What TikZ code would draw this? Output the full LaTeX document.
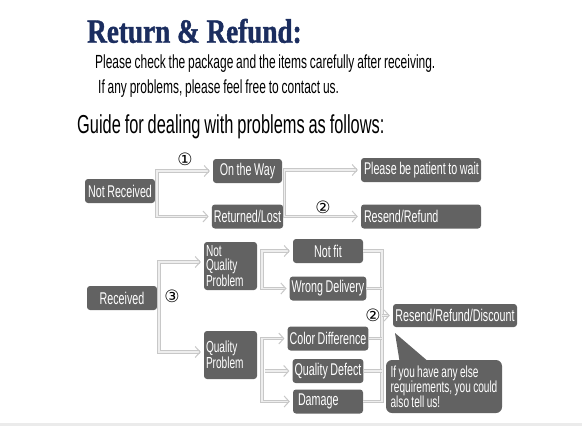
\documentclass[tikz,border=0pt]{standalone}
\usepackage{fontspec}
\usepackage{xcolor}
\usepackage{tikz}
\usetikzlibrary{arrows.meta}

\newfontfamily\narrowfont[FakeStretch=0.63, WordSpace=0.85]{Liberation Sans}
\newfontfamily\headfont[FakeStretch=0.8, FakeBold=1.2]{Liberation Serif}
\newfontfamily\circfont{DejaVu Sans}

\definecolor{titleblue}{RGB}{27,45,95}
\definecolor{boxgray}{RGB}{98,98,98}
\definecolor{linegray}{RGB}{200,200,200}
\definecolor{lineinner}{RGB}{238,238,238}

\tikzset{
  box/.style={fill=boxgray, rounded corners=3pt, text=white, inner sep=2pt,
    minimum height=24pt, font=\narrowfont\fontsize{17}{17}\selectfont},
  plain/.style={inner sep=0pt, anchor=west},
  num/.style={inner sep=0pt, font=\circfont\fontsize{17}{17}\selectfont},
  link/.style={draw=linegray, line width=1pt, double=lineinner,
    double distance=1.6pt, line join=miter, shorten >=3pt, shorten <=3pt,
    >={Straight Barb[length=5pt,width=11pt]}}
}

\begin{document}
\begin{tikzpicture}[x=1pt,y=-1pt]
  \useasboundingbox (0,0) rectangle (582,426);
  \fill[black!8] (0,423) rectangle (582,426);

  \node[plain, text=titleblue, font=\headfont\bfseries\fontsize{34}{37}\selectfont] (title) at (87.000, 31.000) {Return \& Refund:};
  \node[plain, font=\narrowfont\fontsize{19}{20}\selectfont] (check) at (95.000, 64.000) {Please check the package and the items carefully after receiving.};
  \node[plain, font=\narrowfont\fontsize{19}{20}\selectfont] (contact) at (98.000, 89.000) {If any problems, please feel free to contact us.};
  \node[plain, font=\narrowfont\fontsize{26}{27}\selectfont] (guide) at (77.000, 127.000) {Guide for dealing with problems as follows:};

  % not received
  \node[box, minimum width=70pt] (notrec) at (120.000, 191.000) {Not Received};
  \node[box, minimum width=69pt] (way) at (247.500, 171.000) {On the Way};
  \node[box, minimum width=69pt] (lost) at (247.500, 216.500) {Returned/Lost};
  \node[box, minimum width=120pt] (wait) at (421.000, 170.000) {\makebox[114pt][l]{Please be patient to wait}};
  \node[box, minimum width=120pt] (resend) at (421.000, 216.500) {\makebox[114pt][l]{Resend/Refund}};

  \node[num] (one) at (185.000, 159.000) {①};
  \node[num] (two) at (323.000, 207.000) {②};

  \coordinate (j1) at (157.000, 191.000);
  \coordinate (j2) at (284.500, 193.000);
  \draw[link, <->] (way.west) -| (j1) |- (lost.west);
  \draw[link, <->] (wait.west) -| (j2) |- (resend.west);

  % received
  \node[box, minimum width=70pt] (rec) at (122.000, 298.000) {Received};
  \node[box, minimum width=53pt, minimum height=48pt, text width=49pt, align=left,
    font=\narrowfont\fontsize{16}{14.5}\selectfont] (nqp) at (230.500, 266.000) {Not\\Quality\\Problem};
  \node[box, minimum width=53pt, minimum height=48pt, text width=49pt, align=left,
    font=\narrowfont\fontsize{16}{14.5}\selectfont] (qp) at (230.500, 355.000) {Quality\\Problem};

  \node[box, minimum width=70pt] (fit) at (328.000, 251.000) {Not fit};
  \node[box, minimum width=70pt] (wrong) at (328.000, 288.500) {Wrong Delivery};
  \node[box, minimum width=70pt] (color) at (328.000, 338.500) {Color Difference};
  \node[box, minimum width=70pt] (defect) at (328.000, 371.000) {Quality Defect};
  \node[box, minimum width=70pt] (damage) at (328.000, 401.500) {\makebox[60pt][l]{Damage}};

  \node[box, minimum width=124pt, minimum height=23pt] (disc) at (455.000, 315.500) {Resend/Refund/Discount};
  \node[box, rounded corners=6pt, minimum width=116pt, minimum height=53pt, align=left,
    font=\narrowfont\fontsize{16}{15}\selectfont] (note) at (444.000, 386.500)
    {If you have any else\\requirements, you could\\also tell us!};
  \coordinate (tip) at (395.000, 333.000);
  \fill[boxgray] (tip) -- ([xshift=14pt,yshift=-3pt]note.north west) -- ([xshift=44pt,yshift=-3pt]note.north west) -- cycle;

  \node[num] (three) at (172.000, 296.000) {③};
  \node[num] (twob) at (373.000, 315.000) {②};

  \coordinate (j3) at (159.000, 307.000);
  \coordinate (j4) at (262.000, 270.000);
  \coordinate (j5) at (262.000, 371.000);
  \coordinate (hub) at (382.000, 315.500);
  \draw[link, <->] ([yshift=4pt]nqp.west) -| (j3) |- ([yshift=3pt]qp.west);
  \draw[link, <->] (fit.west) -| (j4) |- (wrong.west);
  \draw[link, <->] (color.west) -| (j5) |- (damage.west);
  \draw[link, ->] (j5) -- (defect.west);

  \draw[link, shorten <=0pt, shorten >=0pt] (fit.east) -| (hub) |- (damage.east);
  \draw[link, shorten <=0pt, shorten >=0pt] (wrong.east) -- (wrong.east -| hub);
  \draw[link, shorten <=0pt, shorten >=0pt] (color.east) -- (color.east -| hub);
  \draw[link, shorten <=0pt, shorten >=0pt] (defect.east) -- (defect.east -| hub);
  \draw[link, ->, shorten <=0pt] (hub) -- (disc.west);
\end{tikzpicture}
\end{document}
